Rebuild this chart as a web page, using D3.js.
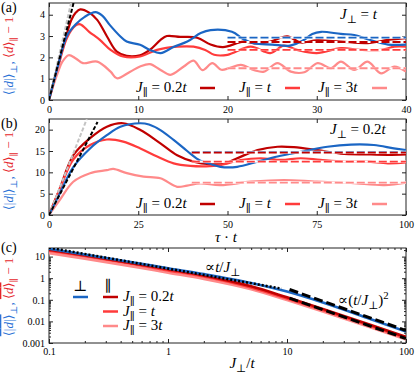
<!DOCTYPE html>
<html>
<head>
<meta charset="utf-8">
<script src="https://cdn.jsdelivr.net/npm/d3@7"></script>
<style>
body{margin:0;background:#fff}
text{font-family:"Liberation Serif","DejaVu Serif",serif}
</style>
</head>
<body>
<script>
// ---- data ----
// panel (a): J_perp = t, x = tau*t
const perpA = [[0,0],[1,1.6],[2,3.0],[3,3.55],[4,3.9],[5.2,4.12],[6,3.95],[6.85,3.5],[8,2.98],[8.7,2.74],[10.2,2.59],[11.3,2.35],[12.5,2.2],[14,2.5],[15.5,2.74],[17,3.14],[18.1,3.28],[20.5,3.2],[21.8,2.85],[23,2.65],[25,2.6],[27,2.55],[28.5,2.8],[29.5,3.1],[30.5,3.2],[32.7,3.1],[34.2,3.05],[35.7,2.85],[38,2.6],[40,2.6]];
const par02A = [[0,0],[1,1.6],[2,3.1],[2.5,3.75],[3,4.1],[3.5,4.25],[4.5,4.1],[5.4,3.76],[6.5,2.98],[7.6,2.27],[8.7,2.07],[10.2,2.1],[11.3,2.35],[12.5,2.82],[13.2,3.0],[14.7,2.96],[16.6,2.92],[18.1,2.6],[19.5,2.48],[21.8,2.74],[23.3,2.65],[24.8,2.74],[26.7,2.98],[28.2,2.7],[30,2.8],[32.7,2.74],[35.7,2.67],[38,2.82],[40,2.9]];
const par1A = [[0,0],[1,1.5],[2,2.9],[3,3.5],[3.5,3.55],[4.5,3.2],[5.7,2.82],[6.9,2.35],[8.3,2.04],[10.2,2.04],[12.1,2.35],[14.4,2.5],[16.2,2.5],[17.5,2.35],[18.5,2.12],[20,2.12],[22.6,2.5],[24.8,2.2],[26.3,2.55],[27.8,2.35],[30,2.2],[32.7,2.43],[34.9,2.35],[37.2,2.35],[38.7,2.5],[40,2.5]];
const par3A = [[0,0],[0.5,0.7],[1,1.3],[1.5,1.8],[2.2,2.1],[3,1.95],[3.8,1.73],[5.4,1.8],[6.9,1.33],[7.6,1.02],[9.1,1.33],[10.2,1.57],[11.3,1.68],[12.5,1.41],[13.6,1.18],[15.1,1.57],[16.2,1.85],[17.2,1.4],[18.3,1.73],[19.3,1.42],[20.2,1.5],[21.5,1.65],[23,1.4],[24.1,1.33],[25.6,1.73],[27.1,1.33],[28.6,1.3],[30.1,1.73],[31.6,1.49],[32.7,1.8],[34.2,1.41],[35.7,1.8],[37.2,1.25],[38.7,1.57],[40,1.33]];
const plateauA = [2.93, 2.72, 2.35, 1.49];   // perp, 0.2t, t, 3t
const plateauSpanA = [20, 40];
const grayLinA = [[0,0],[2.47,4.55]];
const blackLinA = [[0,0],[2.75,4.55]];

// panel (b): J_perp = 0.2t
const perpB = [[0,0],[3,5],[6.8,11.2],[11.5,15.6],[16.2,18.7],[20,20.7],[25.6,21.5],[28,21.2],[31.2,19.9],[34.9,17.6],[38.7,15],[42.4,12.7],[45,12],[48,11.3],[52.7,11.3],[58.4,12.5],[64,13.7],[70.5,14.8],[78,16],[84.6,16.5],[91,16.4],[96.6,15.6],[100,15.2]];
const par02B = [[0,0],[3,6.2],[6.8,14],[11.5,18],[16.2,20.7],[20.8,21.5],[25.6,19.9],[31.2,16.8],[35.9,14],[40.5,12.5],[45,11.9],[49,12],[52.7,13.3],[58.4,15.2],[64,16],[68.6,15.9],[75.2,15.2],[81.7,14.4],[89,14.2],[95,14.1],[100,14.2]];
const par1B = [[0,0],[3,6],[6.8,13],[11.5,16.4],[16.2,17.7],[20.8,17.2],[25.6,15.6],[30.3,13.7],[34.9,12.1],[39.6,11.5],[44,11.4],[48,11.7],[53.7,12.9],[59.3,13.3],[65,12.9],[70.5,13.3],[76,12.9],[82.6,12.5],[89,12.5],[94.9,12.1],[100,12.3]];
const par3B = [[0,0],[3,3.5],[6.8,7.8],[11.5,9.8],[16.2,10.5],[18,10.8],[21.8,9.8],[26.5,9],[31.2,8.6],[35.9,6.6],[38.7,6.9],[42.4,7.4],[48,7.0],[56.5,7.8],[65.8,8.2],[75,7.8],[84.6,7.5],[94,7.0],[100,7.6]];
const plateauB = [14.8, 14.6, 12.5, 7.6];
const plateauSpanB = [40, 100];
const grayLinB = [[0,0],[10.6,22.5]];
const blackLinB = [[0,0],[13.6,21.8]];

// panel (c): long-time averages vs J_perp/t
const perpC = [[0.1,23],[0.2,12.5],[0.5,5.5],[1,2.9],[2,1.55],[5,0.6],[10,0.24],[20,0.075],[50,0.013],[100,0.0034]];
const par02C = [[0.1,21],[0.2,11.5],[0.5,5],[1,2.6],[2,1.35],[5,0.42],[10,0.13],[20,0.038],[50,0.007],[100,0.0019]];
const par1C = [[0.1,19],[0.2,10.3],[0.5,4.5],[1,2.3],[2,1.2],[5,0.37],[10,0.115],[20,0.034],[50,0.0063],[100,0.0017]];
const par3C = [[0.1,14.5],[0.2,8],[0.5,3.5],[1,1.8],[2,0.93],[5,0.31],[10,0.098],[20,0.029],[50,0.0054],[100,0.00145]];
const dotC = [[0.1,26],[9,0.33]];
const dashPerpC = [[10.5,0.3],[100,0.0038]];
const dashParC = [[10.5,0.12],[100,0.0016]];

const ticksAx = [0,10,20,30,40], ticksAy = [0,1,2,3,4];
const ticksBx = [0,25,50,75,100], ticksBy = [0,5,10,15,20];
const ticksCx = [0.1,1,10,100], ticksCy = [0.001,0.01,0.1,1,10];
const legendJ = ["0.2", "", "3"];

// ---- drawing ----
const BLUE = "#1b66c4", DRED = "#c00000", RED = "#ff3b3b", PINK = "#ff8a8a";
const TBLUE = "#2a72d6", TRED = "#e5262b";
const parColors = [DRED, RED, PINK];

const svg = d3.select("body").append("svg")
	.attr("width", 416)
	.attr("height", 375);

const L = 49, R = 406;

function math(sel, parts){
	let shift = 0;
	parts.forEach(p => {
		const t = sel.append("tspan").text(p.t);
		const target = p.k === "sub" ? 4 : p.k === "sup" ? -6 : 0;
		if (target !== shift){ t.attr("dy", target - shift); shift = target; }
		if (p.i) t.attr("font-style", "italic");
		if (p.k === "sub" || p.k === "sup") t.attr("font-size", "0.72em");
		if (p.c) t.attr("fill", p.c);
		if (p.o) t.style("text-decoration", "overline");
	});
	return sel;
}

function axes(x, y, top, bottom, xt, yt, xfmt, yfmt, pad){
	const g = svg.append("g").attr("color", "#222")
		.attr("font-family", "Liberation Serif, serif").attr("font-size", 15);
	g.append("g").attr("transform", `translate(0,${bottom})`)
		.call(d3.axisBottom(x).tickValues(xt).tickSizeInner(-4).tickSizeOuter(0).tickPadding(pad).tickFormat(xfmt));
	g.append("g").attr("transform", `translate(0,${top})`)
		.call(d3.axisTop(x).tickValues(xt).tickSizeInner(-4).tickSizeOuter(0).tickFormat(""));
	g.append("g").attr("transform", `translate(${L},0)`)
		.call(d3.axisLeft(y).tickValues(yt).tickSizeInner(-4).tickSizeOuter(0).tickPadding(4).tickFormat(yfmt));
	g.append("g").attr("transform", `translate(${R},0)`)
		.call(d3.axisRight(y).tickValues(yt).tickSizeInner(-4).tickSizeOuter(0).tickFormat(""));
	g.selectAll(".domain").remove();
	g.selectAll("text").attr("fill", "#000");
	svg.append("rect").attr("x", L).attr("y", top).attr("width", R - L).attr("height", bottom - top)
		.attr("fill", "none").attr("stroke", "#222").attr("stroke-width", 1);
	return g;
}

function clip(id, top, bottom){
	svg.append("clipPath").attr("id", id).append("rect")
		.attr("x", L).attr("y", top).attr("width", R - L).attr("height", bottom - top);
	return svg.append("g").attr("clip-path", `url(#${id})`);
}

function ylabel(cy, over){
	const t = svg.append("text").attr("transform", `translate(13,${cy}) rotate(-90)`)
		.attr("text-anchor", "middle").attr("font-size", 13);
	math(t, [
		{t:"⟨|", c:TBLUE, o:over}, {t:"d", i:1, c:TBLUE, o:over}, {t:"|⟩", c:TBLUE, o:over}, {t:"⊥", k:"sub", c:TBLUE},
		{t:", ", c:TBLUE},
		{t:"⟨", c:TRED, o:over}, {t:"d", i:1, c:TRED, o:over}, {t:"⟩", c:TRED, o:over}, {t:"∥", k:"sub", c:TRED},
		{t:" − 1", c:TRED}
	]);
}

function jpar(sel, j){
	return math(sel, [{t:"J", i:1}, {t:"∥", k:"sub"}, {t:" = " + j}, {t:"t", i:1}]);
}

function timePanel(id, x, y, top, bottom, series, perp, plateaus, span, grayLin, blackLin, xt, yt, jperp, legY){
	axes(x, y, top, bottom, xt, yt, d => d, d => d, 6);
	const g = clip(id, top, bottom);
	const line = d3.line().x(d => x(d[0])).y(d => y(d[1])).curve(d3.curveCatmullRom.alpha(0.5));
	const straight = d3.line().x(d => x(d[0])).y(d => y(d[1]));

	series.forEach((s, i) => g.append("path").attr("d", line(s))
		.attr("fill", "none").attr("stroke", parColors[i]).attr("stroke-width", 2.2));
	g.append("path").attr("d", line(perp))
		.attr("fill", "none").attr("stroke", BLUE).attr("stroke-width", 2.2);

	g.append("path").attr("d", straight(grayLin)).attr("fill", "none")
		.attr("stroke", "#c4c4c4").attr("stroke-width", 2).attr("stroke-dasharray", "4,2");
	g.append("path").attr("d", straight(blackLin)).attr("fill", "none")
		.attr("stroke", "#000").attr("stroke-width", 2).attr("stroke-dasharray", "4,2");

	const pc = [BLUE].concat(parColors);
	plateaus.forEach((v, i) => {
		const pts = [[span[0], v], [span[1], v]];
		g.append("path").attr("d", straight(pts)).attr("fill", "none")
			.attr("stroke", "#fff").attr("stroke-width", 2.2);
		g.append("path").attr("d", straight(pts)).attr("fill", "none")
			.attr("stroke", pc[i]).attr("stroke-width", 1.8).attr("stroke-dasharray", "8,3");
	});

	// legend row
	const lx = [136, 239, 318], sx = [200, 285, 372];
	legendJ.forEach((j, i) => {
		jpar(svg.append("text").attr("x", lx[i]).attr("y", legY + 4).attr("font-size", 15), j);
		svg.append("line").attr("x1", sx[i]).attr("x2", sx[i] + 15).attr("y1", legY).attr("y2", legY)
			.attr("stroke", parColors[i]).attr("stroke-width", 2.5);
	});

	math(svg.append("text").attr("x", jperp.x).attr("y", jperp.y).attr("font-size", 15),
		[{t:"J", i:1}, {t:"⊥", k:"sub"}, {t:" = " + jperp.v}, {t:"t", i:1}]);
}

// (a)
const xA = d3.scaleLinear().domain([0, 40]).range([L, R]);
const yA = d3.scaleLinear().domain([0, 4.55]).range([100, 3]);
timePanel("ca", xA, yA, 3, 100, [par02A, par1A, par3A], perpA, plateauA, plateauSpanA,
	grayLinA, blackLinA, ticksAx, ticksAy, {x:340, y:19, v:""}, 88);

// (b)
const xB = d3.scaleLinear().domain([0, 100]).range([L, R]);
const yB = d3.scaleLinear().domain([0, 22.5]).range([215, 119]);
timePanel("cb", xB, yB, 119, 215, [par02B, par1B, par3B], perpB, plateauB, plateauSpanB,
	grayLinB, blackLinB, ticksBx, ticksBy, {x:330, y:134, v:"0.2"}, 204);

math(svg.append("text").attr("x", 226).attr("y", 242).attr("text-anchor", "middle").attr("font-size", 15),
	[{t:"τ", i:1}, {t:" · "}, {t:"t", i:1}]);

// (c)
const xC = d3.scaleLog().domain([0.1, 100]).range([L, R]);
const yC = d3.scaleLog().domain([0.001, 25]).range([343, 248]);
const gC = axes(xC, yC, 248, 343, ticksCx, ticksCy, d => String(d), d => String(d), 5);
const minorX = [], minorY = [];
[0.1, 1, 10].forEach(b => d3.range(2, 10).forEach(k => minorX.push(b * k)));
[0.001, 0.01, 0.1, 1, 10].forEach(b => d3.range(2, 10).forEach(k => { if (b * k <= 25) minorY.push(b * k); }));
gC.append("g").attr("transform", "translate(0,343)").call(d3.axisBottom(xC).tickValues(minorX).tickSize(-2).tickFormat(""));
gC.append("g").attr("transform", "translate(0,248)").call(d3.axisTop(xC).tickValues(minorX).tickSize(-2).tickFormat(""));
gC.append("g").attr("transform", `translate(${L},0)`).call(d3.axisLeft(yC).tickValues(minorY).tickSize(-2).tickFormat(""));
gC.append("g").attr("transform", `translate(${R},0)`).call(d3.axisRight(yC).tickValues(minorY).tickSize(-2).tickFormat(""));
gC.selectAll(".domain").remove();

const cc = clip("cc", 248, 343);
const lineC = d3.line().x(d => xC(d[0])).y(d => yC(d[1])).curve(d3.curveMonotoneX);
[par3C, par1C, par02C].forEach((s, i) => cc.append("path").attr("d", lineC(s))
	.attr("fill", "none").attr("stroke", parColors[2 - i]).attr("stroke-width", 2.6));
cc.append("path").attr("d", lineC(perpC)).attr("fill", "none").attr("stroke", BLUE).attr("stroke-width", 2.6);
cc.append("path").attr("d", lineC(dotC)).attr("fill", "none").attr("stroke", "#000")
	.attr("stroke-width", 2.5).attr("stroke-dasharray", "2,2");
[dashPerpC, dashParC].forEach(s => cc.append("path").attr("d", lineC(s)).attr("fill", "none")
	.attr("stroke", "#000").attr("stroke-width", 3).attr("stroke-dasharray", "9,4"));

math(svg.append("text").attr("x", 205).attr("y", 272).attr("font-size", 15),
	[{t:"∝"}, {t:"t", i:1}, {t:"/"}, {t:"J", i:1}, {t:"⊥", k:"sub"}]);
math(svg.append("text").attr("x", 338).attr("y", 305).attr("font-size", 15),
	[{t:"∝("}, {t:"t", i:1}, {t:"/"}, {t:"J", i:1}, {t:"⊥", k:"sub"}, {t:")"}, {t:"2", k:"sup"}]);

// legend (c)
svg.append("text").attr("x", 80).attr("y", 291).attr("text-anchor", "middle").attr("font-size", 15).text("⊥");
svg.append("text").attr("x", 108).attr("y", 291).attr("text-anchor", "middle").attr("font-size", 15).text("∥");
svg.append("line").attr("x1", 73).attr("x2", 88).attr("y1", 297).attr("y2", 297).attr("stroke", BLUE).attr("stroke-width", 2.5);
legendJ.forEach((j, i) => {
	const yy = 297 + i * 14.5;
	svg.append("line").attr("x1", 103).attr("x2", 118).attr("y1", yy).attr("y2", yy)
		.attr("stroke", parColors[i]).attr("stroke-width", 2.5);
	jpar(svg.append("text").attr("x", 123).attr("y", yy + 4).attr("font-size", 15), j);
});

math(svg.append("text").attr("x", 242).attr("y", 368).attr("text-anchor", "middle").attr("font-size", 15),
	[{t:"J", i:1}, {t:"⊥", k:"sub"}, {t:"/"}, {t:"t", i:1}]);

// y labels and panel tags
ylabel(56, false);
ylabel(171, false);
ylabel(297, true);
[["(a)", 12], ["(b)", 128], ["(c)", 252]].forEach(([s, yy]) =>
	svg.append("text").attr("x", 1).attr("y", yy).attr("font-size", 14).text(s));
</script>
</body>
</html>
